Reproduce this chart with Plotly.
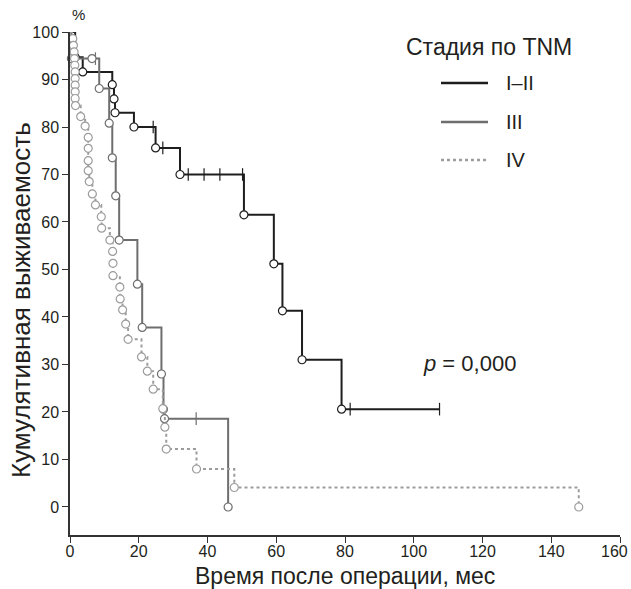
import plotly.graph_objects as go

# ---- data ----
# Stage I-II
t12 = [1.5, 3.7, 12.3, 12.8, 13.1, 18.6, 24.9, 32.0, 50.6, 59.3, 61.8, 67.5, 79.0]
s12 = [94.7, 91.6, 88.9, 85.9, 83.0, 80.0, 75.6, 70.0, 61.5, 51.2, 41.3, 31.0, 20.6]
c12 = [24.2, 27.0, 34.4, 39.0, 43.6, 50.2, 81.5, 107.5]
end12 = 107.5

# Stage III
t3 = [0.4, 6.4, 8.5, 11.4, 12.3, 13.3, 14.3, 19.6, 21.0, 26.6, 27.2, 27.5, 46.0]
s3 = [94.4, 94.4, 88.1, 80.8, 73.5, 65.5, 56.2, 46.9, 37.8, 28.0, 20.6, 18.6, 0.0]
c3 = [7.4, 36.7]
end3 = 46.0

# Stage IV
t4 = [0.8, 1.0, 1.2, 1.3, 1.4, 1.5, 1.5, 1.5, 1.5, 1.5, 1.6, 3.1, 4.4, 5.3, 5.3, 5.3, 5.3,
      5.6, 6.5, 7.4, 9.1, 9.2, 11.6, 12.4, 12.5, 12.5, 14.5, 14.6, 15.3, 16.2, 16.9,
      20.8, 22.5, 24.2, 27.0, 27.6, 28.0, 36.8, 47.8, 148.0]
s4 = [98.6, 97.2, 95.8, 94.4, 93.0, 91.6, 90.2, 88.8, 87.4, 86.0, 84.5, 82.2, 80.2, 77.8, 75.5,
      72.9, 70.8, 68.5, 65.9, 63.6, 61.1, 58.7, 56.2, 53.8, 51.3, 48.7, 46.3, 43.8, 41.5,
      38.5, 35.3, 31.6, 28.6, 24.8, 20.7, 16.8, 12.2, 8.0, 4.1, 0.0]
c4 = []
end4 = 148.0

names = ["I–II", "III", "IV"]
colors = ["#1e1e1e", "#6e6e6e", "#9c9c9c"]
dashes = ["solid", "solid", "dot"]

xticks = [0, 20, 40, 60, 80, 100, 120, 140, 160]
yticks = [0, 10, 20, 30, 40, 50, 60, 70, 80, 90, 100]

FONT = "Liberation Sans, Arial, sans-serif"
TXT = "#231f20"

fig = go.Figure()

def surv_at(t, ts, ss):
    v = 100.0
    for ti, si in zip(ts, ss):
        if ti <= t:
            v = si
    return v

series = [(t12, s12, c12, end12), (t3, s3, c3, end3), (t4, s4, c4, end4)]
for (ts, ss, cs, end), col, dash in zip(series, colors, dashes):
    xs = [0] + ts + ([end] if end > ts[-1] else [])
    ys = [100] + ss + ([ss[-1]] if end > ts[-1] else [])
    fig.add_trace(go.Scatter(x=xs, y=ys, mode="lines", line=dict(color=col, width=2.0, dash=dash, shape="hv"),
                             showlegend=False, hoverinfo="skip", cliponaxis=False))
    if cs:
        fig.add_trace(go.Scatter(x=cs, y=[surv_at(c, ts, ss) for c in cs], mode="markers",
                                 marker=dict(symbol="line-ns", size=9, line=dict(color=col, width=1.2)),
                                 showlegend=False, cliponaxis=False))
    fig.add_trace(go.Scatter(x=ts, y=ss, mode="markers",
                             marker=dict(symbol="circle", size=8, color="white", line=dict(color=col, width=1.2)),
                             showlegend=False, cliponaxis=False))

W, H, L, T = 550.0, 503.0, 70.0, 32.0
def px(x): return (x - L) / W
def py(y): return (T + H - y) / H

def ann(text, x, y, size, xanchor="center", angle=0):
    return dict(text=text, x=px(x), y=py(y), xref="paper", yref="paper", xanchor=xanchor, yanchor="middle",
                textangle=angle, showarrow=False, font=dict(family=FONT, size=size, color=TXT))

shapes = []
annotations = [ann("Стадия по TNM", 489, 47, 23)]
for i, (nm, col, dash) in enumerate(zip(names, colors, dashes)):
    yy = [83, 122, 160][i]
    shapes.append(dict(type="line", xref="paper", yref="paper", x0=px(441), x1=px(488), y0=py(yy), y1=py(yy),
                       line=dict(color=col, width=2.5, dash=dash)))
    annotations.append(ann(nm, 504, yy, 20, xanchor="left"))

annotations.append(ann("<i>p</i> = 0,000", 421, 363, 22, xanchor="left"))
annotations.append(ann("%", 78, 15, 15))
annotations.append(ann("Кумулятивная выживаемость", 21, 300, 26, angle=-90))
annotations.append(ann("Время после операции, мес", 345, 576, 23))
# last x tick label placed so it stays inside the page (right-aligned at the edge)
annotations.append(ann(str(xticks[-1]), 630, 551, 16, xanchor="right"))

xticktext = [str(v) for v in xticks[:-1]] + [""]

fig.update_layout(
    width=631, height=589,
    margin=dict(l=70, r=11, t=32, b=54),
    plot_bgcolor="white", paper_bgcolor="white",
    shapes=shapes, annotations=annotations,
    font=dict(family=FONT, color=TXT),
    xaxis=dict(range=[0, 160], tickvals=xticks, ticktext=xticktext, ticks="outside", ticklen=6, tickwidth=1.3,
               tickcolor="#333", showline=True, linecolor="#333", linewidth=1.5, showgrid=False, zeroline=False,
               ticklabelstandoff=-5, automargin=False,
               tickfont=dict(family=FONT, size=16, color=TXT)),
    yaxis=dict(range=[-5.9, 100], tickvals=yticks, ticks="outside", ticklen=6, tickwidth=1.3, tickcolor="#333",
               showline=True, linecolor="#333", linewidth=1.5, showgrid=False, zeroline=False,
               automargin=False,
               tickfont=dict(family=FONT, size=16, color=TXT)),
)

# remove the browser's default 8px page margin so the figure sits at the window's top-left corner
fig.write_html("out.html", config={"displayModeBar": False},
               post_script="document.body.style.margin='0';")
